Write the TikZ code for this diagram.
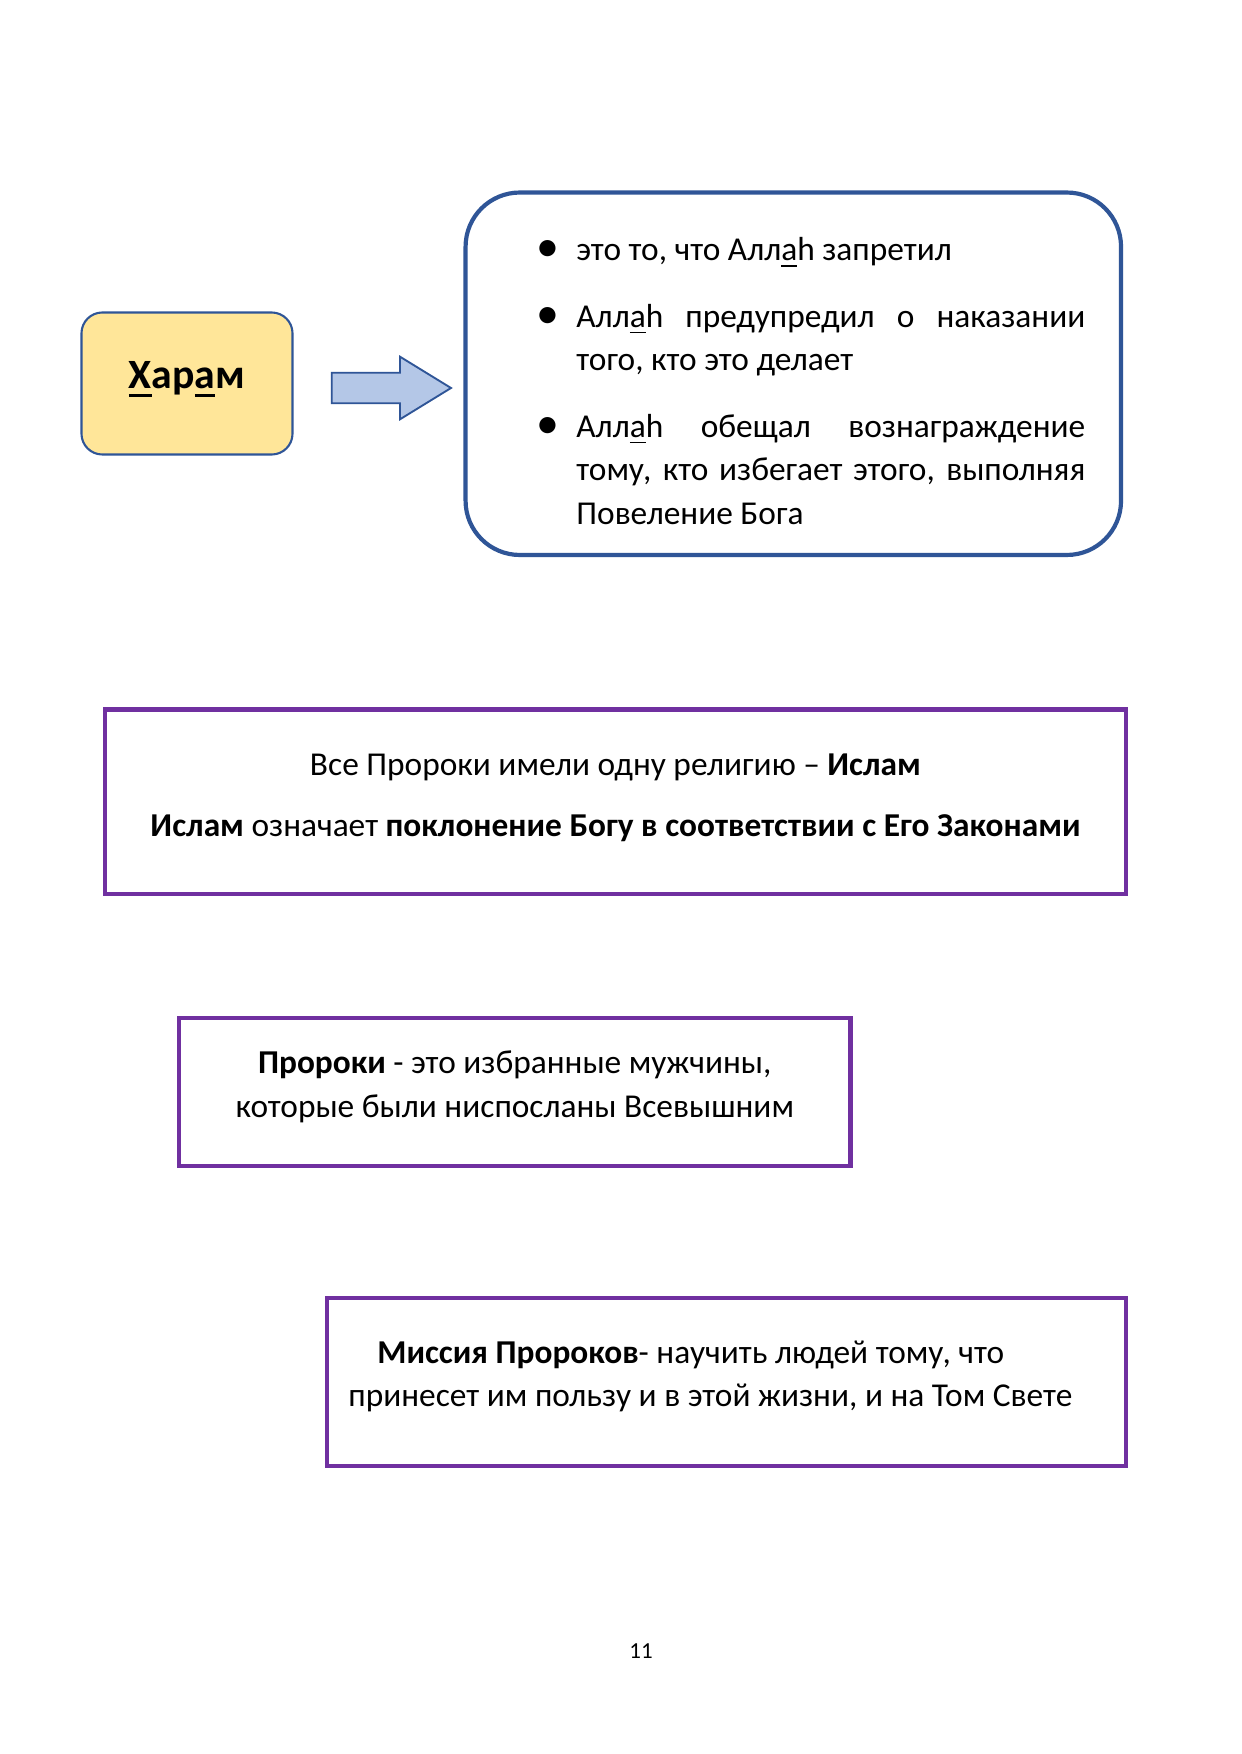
\documentclass[tikz,border=0pt]{standalone}
\usepackage{fontspec}
\setmainfont{Carlito}
\definecolor{hfill}{HTML}{FFE699}
\definecolor{hdraw}{HTML}{2F5597}
\definecolor{afill}{HTML}{B4C7E7}
\definecolor{adraw}{HTML}{2F5597}
\definecolor{bdraw}{HTML}{2F5597}
\definecolor{prp}{HTML}{7030A0}
\newcommand{\mybul}{\leavevmode\llap{\makebox[27.6pt][c]{\fontsize{22}{22}\selectfont\raisebox{-0.5pt}{•}}}}
\newcommand{\uln}[3]{\setbox0\hbox{#3}\rlap{\rule[#1]{\wd0}{#2}}\box0}
\begin{document}
\begin{tikzpicture}[x=0.4795pt,y=-0.4795pt,
  txt/.style={inner sep=0pt, font=\fontsize{16}{20.9}\selectfont},
  purplebox/.style={draw=prp, line width=2.25pt, inner sep=0pt}]
\useasboundingbox (0,0) rectangle (1241,1754);
\fill[white] (0,0) rectangle (1241,1754);
% Haram box
\node[draw=hdraw, fill=hfill, line width=1pt, rounded corners=10pt,
  minimum width=101.2pt, minimum height=68.1pt, inner sep=0pt] (haram) at (187,383.5) {};
\node[inner sep=0pt, anchor=base, font=\fontsize{20}{24}\selectfont\bfseries] (haramtxt) at (187,389)
  {\uln{-3.6pt}{1.1pt}{Х}ар\uln{-3.6pt}{1.1pt}{а}м};
% block arrow
\draw[draw=adraw, fill=afill, line width=0.9pt, line join=miter]
  (331.7,372.7) -- (400,372.7) -- (400,356.7) -- (451,388) -- (400,419.3) -- (400,403.3) -- (331.7,403.3) -- cycle;
% big rounded box
\node[draw=bdraw, line width=2pt, rounded corners=26pt,
  minimum width=314.3pt, minimum height=173.8pt, inner sep=0pt] (defbox) at (793.3,373.75) {};
\node[inner sep=0pt, anchor=base west] (list) at (576,260.5) {\begin{minipage}[t]{244pt}%
\fontsize{16}{20.9}\selectfont\setlength\parskip{11pt}\setlength\parindent{0pt}%
\emergencystretch=3em
\mybul это то, что Алл\uln{-3pt}{0.7pt}{а}h запретил\par
\mybul Алл\uln{-3pt}{0.7pt}{а}h предупредил о наказании\linebreak того, кто это делает\par
\mybul Алл\uln{-3pt}{0.7pt}{а}h обещал вознаграждение\linebreak тому, кто избегает этого, выполняя\linebreak Повеление Бога\par
\end{minipage}};
% purple box 1
\node[purplebox, minimum width=489.6pt, minimum height=88.5pt] (box1) at (615.5,801.75) {};
\node[txt, anchor=base] (b1a) at (615.5,775.5) {Все Пророки имели одну религию – \textbf{Ислам}};
\node[txt, anchor=base] (b1b) at (615.5,836.5) {\textbf{Ислам} означает \textbf{поклонение Богу в соответствии с Его Законами}};
% purple box 2
\node[purplebox, minimum width=322pt, minimum height=71pt] (box2) at (514.75,1092) {};
\node[txt, anchor=base] (b2a) at (514.75,1073) {\textbf{Пророки} - это избранные мужчины,};
\node[txt, anchor=base] (b2b) at (514.75,1117) {которые были ниспосланы Всевышним};
% purple box 3
\node[purplebox, minimum width=383.1pt, minimum height=80.6pt] (box3) at (726.5,1382) {};
\node[txt, anchor=base west] (b3a) at (377,1363) {\textbf{Миссия Пророков}- научить людей тому, что};
\node[txt, anchor=base west] (b3b) at (348,1406.5) {принесет им пользу и в этой жизни, и на Том Свете};
% page number
\node[inner sep=0pt, anchor=base, font=\fontsize{11}{13}\selectfont] (pnum) at (641,1658) {11};
\end{tikzpicture}
\end{document}
